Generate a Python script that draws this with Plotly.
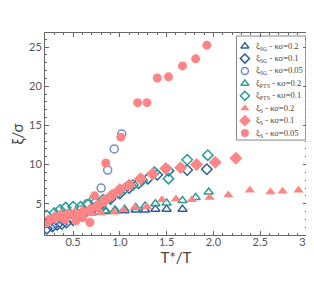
import plotly.graph_objects as go

# ξ_SG
sg02_x = [0.55, 0.65, 0.75, 0.85, 0.95, 1.05, 1.17, 1.27, 1.38, 1.5, 1.67]
sg02_y = [3.6, 3.8, 3.9, 4.0, 4.1, 4.1, 4.2, 4.2, 4.3, 4.3, 4.3]
sg01_x = [0.22, 0.28, 0.33, 0.38, 0.43, 0.5, 0.6, 0.7, 0.8, 0.9, 1.0, 1.1, 1.2, 1.3, 1.4, 1.52, 1.72, 1.93]
sg01_y = [1.8, 2.1, 2.3, 2.4, 2.6, 2.9, 3.5, 4.2, 4.9, 5.6, 6.3, 7.0, 7.6, 8.2, 8.7, 9.2, 9.3, 9.4]
sg005_x = [0.3, 0.4, 0.5, 0.58, 0.65, 0.72, 0.8, 0.87, 0.94, 1.02]
sg005_y = [2.6, 3.0, 3.6, 4.2, 5.0, 5.6, 7.0, 9.3, 12.0, 13.9]
# ξ_PTS
pts02_x = [0.75, 0.85, 0.95, 1.05, 1.17, 1.27, 1.38, 1.5, 1.67, 1.81, 1.95]
pts02_y = [3.9, 4.1, 4.2, 4.3, 4.5, 4.7, 5.0, 5.1, 5.4, 5.8, 6.5]
pts01_x = [0.22, 0.3, 0.36, 0.42, 0.5, 0.58, 0.66, 0.74, 0.82, 0.9, 0.98, 1.06, 1.14, 1.24, 1.37, 1.52, 1.72, 1.94]
pts01_y = [3.5, 3.8, 4.2, 4.5, 4.6, 4.6, 4.9, 5.2, 5.5, 5.9, 6.4, 7.0, 7.4, 8.0, 9.0, 8.2, 10.6, 11.2]
# ξ_S
s02_x = [0.3, 0.4, 0.5, 0.6, 0.7, 0.8, 0.94, 1.04, 1.16, 1.29, 1.45, 1.6, 1.77, 1.96, 2.16, 2.39, 2.61, 2.74, 2.91]
s02_y = [3.2, 3.4, 3.5, 3.6, 3.7, 3.8, 3.9, 4.2, 4.5, 4.6, 5.5, 5.6, 5.5, 5.8, 6.1, 6.7, 6.5, 6.6, 6.7]
s01_x = [0.23, 0.3, 0.37, 0.44, 0.52, 0.6, 0.68, 0.76, 0.84, 0.92, 1.0, 1.1, 1.22, 1.35, 1.49, 1.65, 1.82, 2.02, 2.24]
s01_y = [2.8, 3.2, 3.5, 3.6, 3.7, 3.9, 4.2, 4.7, 5.4, 6.1, 6.8, 7.4, 8.2, 8.8, 9.5, 9.6, 10.0, 10.3, 10.8]
s005_x = [0.25, 0.33, 0.42, 0.53, 0.6, 0.68, 0.73, 0.85, 1.01, 1.19, 1.29, 1.4, 1.52, 1.67, 1.81, 1.93]
s005_y = [3.0, 3.3, 3.0, 2.8, 3.2, 2.6, 6.0, 10.2, 13.5, 17.9, 17.9, 21.05, 21.2, 22.6, 23.5, 25.25]

legend_labels = [
    "ξ<sub>SG</sub> - κσ=0.2", "ξ<sub>SG</sub> - κσ=0.1", "ξ<sub>SG</sub> - κσ=0.05",
    "ξ<sub>PTS</sub> - κσ=0.2", "ξ<sub>PTS</sub> - κσ=0.1",
    "ξ<sub>S</sub> - κσ=0.2", "ξ<sub>S</sub> - κσ=0.1", "ξ<sub>S</sub> - κσ=0.05",
]

DB = "#2b5d9b"
LB = "#6f8fc7"
TE = "#2c9c96"
SA = "#ff8485"

series = [
    (sg02_x, sg02_y, "triangle-up-open", DB, 8),
    (sg01_x, sg01_y, "diamond-open", DB, 8),
    (sg005_x, sg005_y, "circle-open", LB, 8),
    (pts02_x, pts02_y, "triangle-up-open", TE, 8),
    (pts01_x, pts01_y, "diamond-open", TE, 8),
    (s02_x, s02_y, "triangle-up", SA, 9),
    (s01_x, s01_y, "diamond", SA, 10),
    (s005_x, s005_y, "circle", SA, 9),
]

fig = go.Figure()
for (xs, ys, sym, col, sz), name in zip(series, legend_labels):
    fig.add_trace(go.Scatter(
        x=xs, y=ys, mode="markers", name=name, showlegend=False,
        marker=dict(symbol=sym, color=col, size=sz,
                    line=dict(color=col, width=1.5 if "open" in sym else 0)),
    ))

# compact custom legend drawn on an invisible overlay axis (0..1 over the plot area)
leg_x0, leg_x1, leg_top, leg_bot = 0.731, 0.995, 0.985, 0.47
row_top, row_step = 0.935, 0.0615
key_x, text_x = 0.763, 0.797
fig.add_shape(type="rect", xref="paper", yref="paper",
              x0=leg_x0, x1=leg_x1, y0=leg_bot, y1=leg_top,
              line=dict(color="#888", width=1), fillcolor="white", layer="below")
for i, ((xs, ys, sym, col, sz), name) in enumerate(zip(series, legend_labels)):
    yy = row_top - i * row_step
    fig.add_trace(go.Scatter(
        x=[key_x], y=[yy], xaxis="x2", yaxis="y2", mode="markers", showlegend=False,
        hoverinfo="skip",
        marker=dict(symbol=sym, color=col, size=sz - 1,
                    line=dict(color=col, width=1.5 if "open" in sym else 0)),
    ))
    fig.add_annotation(x=text_x, y=yy, xref="paper", yref="paper", text=name,
                       showarrow=False, xanchor="left", yanchor="middle",
                       font=dict(family="Liberation Serif", size=8.5, color="#444"))

axis_common = dict(
    showline=True, linecolor="#666", linewidth=1, mirror="ticks",
    ticks="inside", ticklen=4, tickcolor="#666", showgrid=False, zeroline=False,
    tickfont=dict(family="Lato", size=11, color="#555"),
    ticklabeloverflow="allow",
)
fig.update_xaxes(range=[0.2, 3.0005], dtick=0.5, tick0=0, tickformat=".1f",
                 ticklabelstandoff=-3,
                 minor=dict(dtick=0.1, ticks="inside", ticklen=2, tickcolor="#666"),
                 title=dict(text="T*/T", font=dict(family="Lato", size=15, color="#444"), standoff=0),
                 **axis_common)
fig.update_yaxes(range=[1.0, 26.8], dtick=5, tick0=0,
                 minor=dict(dtick=1, ticks="inside", ticklen=2, tickcolor="#666"),
                 title=dict(text="ξ/σ", font=dict(family="Lato", size=15, color="#444"), standoff=4),
                 **axis_common)

fig.update_layout(
    width=314, height=285,
    margin=dict(l=28, r=7, t=25, b=58),
    plot_bgcolor="white", paper_bgcolor="white",
    showlegend=False,
    xaxis2=dict(overlaying="x", range=[0, 1], visible=False, fixedrange=True),
    yaxis2=dict(overlaying="y", range=[0, 1], visible=False, fixedrange=True),
)
fig.write_html("out.html")
